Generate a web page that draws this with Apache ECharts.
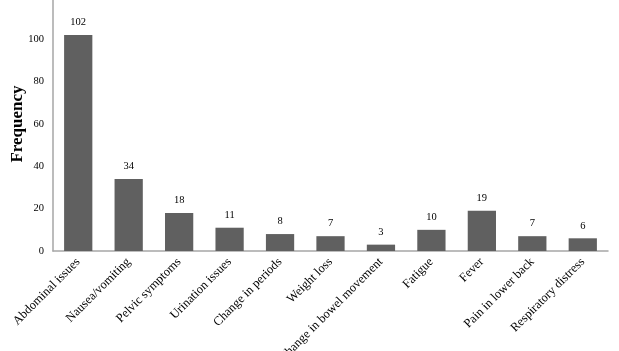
<!DOCTYPE html>
<html>
<head>
<meta charset="utf-8">
<script src="https://cdn.jsdelivr.net/npm/echarts@6/dist/echarts.min.js"></script>
<style>
  html, body { margin: 0; padding: 0; background: #fff; }
  #chart { width: 619px; height: 351px; }
</style>
</head>
<body>
<div id="chart"></div>
<script>
// symptom categories and counts
var categories = ['Abdominal issues', 'Nausea/vomiting', 'Pelvic symptoms', 'Urination issues',
  'Change in periods', 'Weight loss', 'Change in bowel movement', 'Fatigue', 'Fever',
  'Pain in lower back', 'Respiratory distress']
var frequency = [102, 34, 18, 11, 8, 7, 3, 10, 19, 7, 6]
var yTicks = [0, 20, 40, 60, 80, 100, 120]

var serif = '"Liberation Serif", "DejaVu Serif", serif'
var myChart = echarts.init(document.getElementById('chart'))
var option = {
  backgroundColor: '#fff',
  animation: false,
  grid: { left: 53, right: 11, top: -3, height: 254, containLabel: false, outerBoundsMode: 'none' },
  xAxis: {
    type: 'category',
    data: categories,
    axisLine: { lineStyle: { color: '#a6a6a6', width: 1.5 } },
    axisTick: { show: false },
    axisLabel: {
      rotate: 45, interval: 0, margin: 9,
      fontFamily: serif, fontSize: 12.5, color: '#000'
    }
  },
  yAxis: {
    type: 'value',
    min: yTicks[0], max: yTicks[yTicks.length - 1], interval: 20,
    name: 'Frequency',
    nameLocation: 'middle',
    nameGap: 27,
    nameMoveOverlap: false,
    nameTextStyle: { fontFamily: serif, fontSize: 17, fontWeight: 'bold', color: '#000' },
    axisLine: { show: true, lineStyle: { color: '#a6a6a6', width: 1.5 } },
    axisTick: { show: false },
    splitLine: { show: false },
    axisLabel: { fontFamily: serif, fontSize: 10.5, color: '#000', margin: 9 }
  },
  series: [{
    type: 'bar',
    data: frequency,
    barWidth: '56%',
    itemStyle: { color: '#606060' },
    label: {
      show: true, position: 'top', distance: 7,
      fontFamily: serif, fontSize: 10.5, color: '#000'
    }
  }]
}
myChart.setOption(option)
</script>
</body>
</html>
